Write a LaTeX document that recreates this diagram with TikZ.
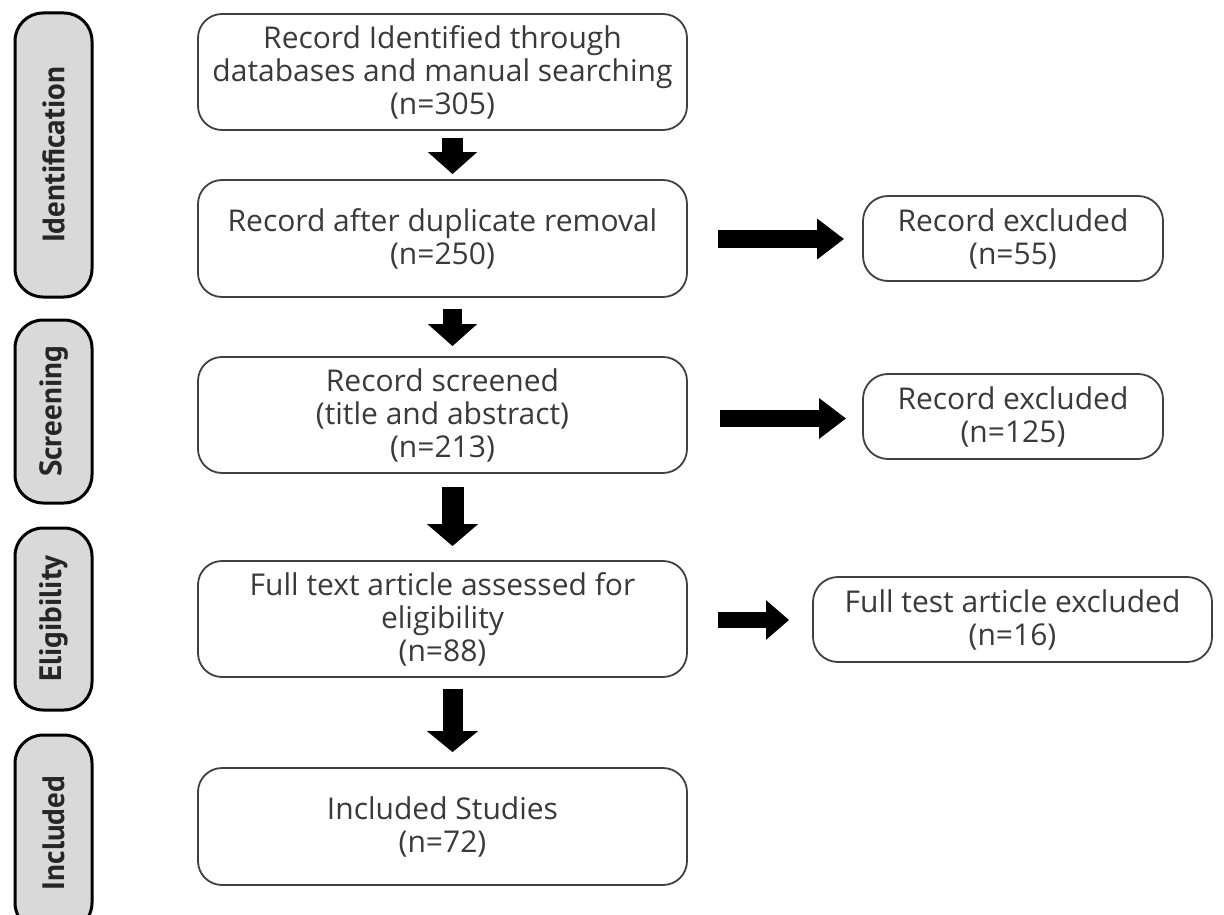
\documentclass[tikz,border=0pt]{standalone}
\usepackage{fontspec}
\setmainfont{Open Sans}
\newfontfamily\stagefont{PT Sans}
\usetikzlibrary{arrows.meta,calc}
\definecolor{stagegray}{HTML}{D9D9D9}
\definecolor{txtgray}{HTML}{3A3A3A}
\definecolor{boxline}{HTML}{404040}
\begin{document}
\begin{tikzpicture}[x=1pt,y=-1pt,
  stage/.style={draw=black, line width=3pt, fill=stagegray, rounded corners=28pt,
    minimum height=77pt, inner sep=0pt, rotate=90,
    font=\stagefont\bfseries\fontsize{31}{33}\selectfont, text=black!85},
  mainbox/.style={draw=boxline, line width=1.8pt, rounded corners=24pt,
    minimum width=489pt, minimum height=116pt, inner sep=0pt, align=center,
    font=\fontsize{30}{33}\selectfont, text=txtgray},
  exbox/.style={draw=boxline, line width=1.8pt, rounded corners=25pt,
    minimum height=85pt, inner sep=0pt, align=center,
    font=\fontsize{30}{33}\selectfont, text=txtgray},
]
\useasboundingbox (0,0) rectangle (1224,915);
\fill[white] (0,0) rectangle (1224,915);

% stage labels
\node[stage, minimum width=284pt] (s1) at (53.5,155) {Identification};
\node[stage, minimum width=183pt] (s2) at (53.5,411.5) {Screening};
\node[stage, minimum width=182pt] (s3) at (53.5,619) {Eligibility};
\node[stage, minimum width=196pt] (s4) at (53.5,833) {Included};

% main boxes
\node[mainbox] (b1) at (442.5,72) {Record Identified through\\databases and manual searching\\(n=305)};
\node[mainbox, minimum height=117pt] (b2) at (442.5,238.5) {Record after duplicate removal\\(n=250)};
\node[mainbox] (b3) at (442.5,415) {Record screened\\(title and abstract)\\(n=213)};
\node[mainbox] (b4) at (442.5,619) {Full text article assessed for\\eligibility\\(n=88)};
\node[mainbox, minimum height=117pt] (b5) at (442.5,826.5) {Included Studies\\(n=72)};

% excluded boxes
\node[exbox, minimum width=300pt] (e1) at (1013,238.5) {Record excluded\\(n=55)};
\node[exbox, minimum width=300pt] (e2) at (1013,416.5) {Record excluded\\(n=125)};
\node[exbox, minimum width=399pt] (e3) at (1012.5,619.5) {Full test article excluded\\(n=16)};

% vertical block arrows
\draw[line width=21pt, -{Triangle[width=48pt,length=22pt]}]
  ($(b1.south)+(10,7)$) -- ($(b2.north)+(10,-5)$);
\draw[line width=19pt, -{Triangle[width=48pt,length=22pt]}]
  ($(b2.south)+(10,11)$) -- ($(b3.north)+(10,-10)$);
\draw[line width=22pt, -{Triangle[width=50pt,length=22pt]}]
  ($(b3.south)+(10,13)$) -- ($(b4.north)+(10,-14)$);
\draw[line width=20pt, -{Triangle[width=50pt,length=21pt]}]
  ($(b4.south)+(10,11)$) -- ($(b5.north)+(10,-15)$);

% horizontal block arrows
\draw[line width=18pt, -{Triangle[width=39pt,length=27pt]}]
  ($(b2.east)+(30,0.5)$) -- ($(e1.west)+(-18,0.5)$);
\draw[line width=17pt, -{Triangle[width=39pt,length=27pt]}]
  ($(b3.east |- e2.west)+(32,2)$) -- ($(e2.west)+(-16,2)$);
\draw[line width=16pt, -{Triangle[width=38pt,length=23pt]}]
  ($(b4.east |- e3.west)+(30,0.5)$) -- ($(e3.west)+(-23,0.5)$);
\end{tikzpicture}
\end{document}
